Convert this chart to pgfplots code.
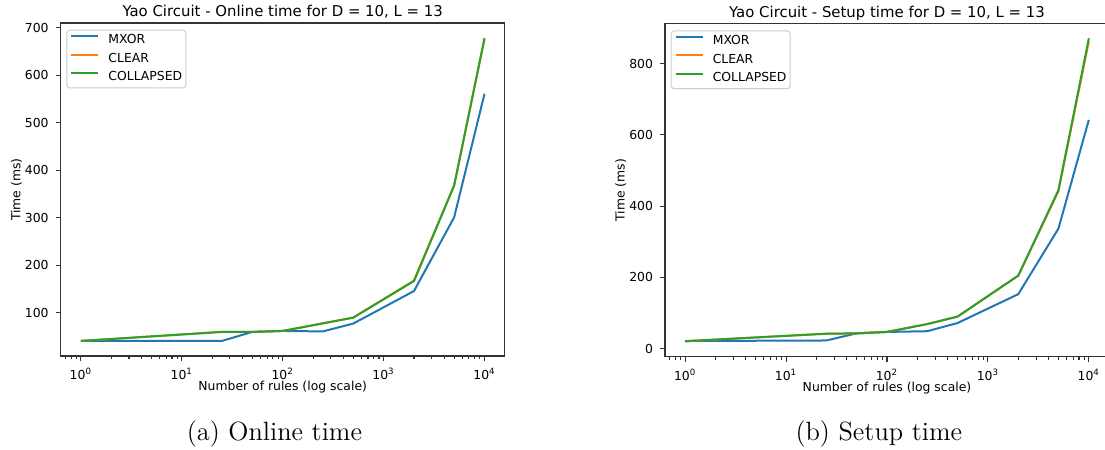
\documentclass[border=0pt]{standalone}
\usepackage{fontspec}
\usepackage{pgfplots}
\pgfplotsset{compat=1.18}
\newfontfamily\dejavu{DejaVu Sans}
\newcommand\tickfont{\dejavu\fontsize{6.2}{7.4}\selectfont}
\newcommand\titlefont{\dejavu\fontsize{7.45}{9}\selectfont}
\newcommand\capfont{\fontsize{13.2}{16}\selectfont}
\definecolor{mblue}{HTML}{1F77B4}
\definecolor{morange}{HTML}{FF7F0E}
\definecolor{mgreen}{HTML}{2CA02C}
\pgfplotsset{
  every axis/.append style={
    scale only axis, width=222pt, height=166.5pt,
    xmin=0.630957, xmax=15848.9,
    axis line style={black!80, line width=0.55pt},
    tick style={black!80, line width=0.55pt},
    tick align=outside, tick pos=left,
    major tick length=2.5pt, minor tick length=1.45pt,
    xtick={1,10,100,1000,10000},
    xticklabels={10\textsuperscript{0},10\textsuperscript{1},10\textsuperscript{2},10\textsuperscript{3},10\textsuperscript{4}},
    minor xtick={0.7,0.8,0.9,2,3,4,5,6,7,8,9,20,30,40,50,60,70,80,90,200,300,400,500,600,700,800,900,2000,3000,4000,5000,6000,7000,8000,9000},
    tick label style={font=\tickfont},
    label style={font=\tickfont},
    every axis title shift=0pt,
    title style={font=\titlefont, at={(axis description cs:0.5,1.0198)}, anchor=base},
    xlabel style={at={(axis description cs:0.5,-0.1051)}, anchor=base},
    ylabel style={at={(axis description cs:-0.0908,0.5)}, anchor=base},
    xlabel={Number of rules (log scale)},
    ylabel={Time (ms)},
    legend cell align=left,
    legend style={at={(axis description cs:0,1)}, anchor=north west,
      xshift=2.85pt, yshift=-3.35pt,
      draw=black!20, fill=white, fill opacity=0.8, text opacity=1,
      rounded corners=1.5pt, line width=0.5pt,
      font=\tickfont,
      inner xsep=1.8pt, inner ysep=2.2pt,
      nodes={inner sep=0pt, text height=4.6pt, text depth=1.3pt},
      row sep=3.4pt, column sep=4.5pt},
  },
  every axis plot/.append style={line width=1pt, line join=round,
    legend image code/.code={\draw[##1] (0pt,2.2pt) -- (13.5pt,2.2pt);}},
}
\begin{document}
\begin{tikzpicture}
\useasboundingbox (0,0) rectangle (552.5pt,225pt);
\begin{semilogxaxis}[at={(30.35pt,47pt)}, anchor=south west,
  ymin=9.3, ymax=710,
  ytick={100,200,300,400,500,600,700},
  yticklabels={100,200,300,400,500,600,700},
  title={Yao Circuit - Online time for D = 10, L = 13}]
\addplot[mblue] coordinates {(1,41) (25,41) (50,60) (100,62) (250,61) (500,77.5) (2000,146) (5000,301) (10000,561)};
\addlegendentry{MXOR}
\addplot[morange] coordinates {(1,41) (25,60) (50,60) (100,62) (250,78) (500,90) (2000,168) (5000,368) (10000,677)};
\addlegendentry{CLEAR}
\addplot[mgreen] coordinates {(1,41) (25,60) (50,60) (100,62) (250,78) (500,90) (2000,167) (5000,368) (10000,678)};
\addlegendentry{COLLAPSED}
\end{semilogxaxis}
\begin{semilogxaxis}[at={(332.5pt,46.65pt)}, anchor=south west,
  ymin=-22.5, ymax=912,
  ytick={0,200,400,600,800},
  yticklabels={0,200,400,600,800},
  title={Yao Circuit - Setup time for D = 10, L = 13}]
\addplot[mblue] coordinates {(1,21.5) (25,23) (50,43) (100,47) (250,49) (500,72) (2000,153) (5000,337) (10000,642)};
\addlegendentry{MXOR}
\addplot[morange] coordinates {(1,21) (25,42) (50,43) (100,47) (250,69) (500,90) (2000,205) (5000,442) (10000,862)};
\addlegendentry{CLEAR}
\addplot[mgreen] coordinates {(1,21) (25,42) (50,43) (100,47) (250,69) (500,90) (2000,205) (5000,445) (10000,871)};
\addlegendentry{COLLAPSED}
\end{semilogxaxis}
\node[anchor=base, font=\capfont, inner sep=0pt] at (137.2pt,4.5pt) {(a) Online time};
\node[anchor=base, font=\capfont, inner sep=0pt] at (439.4pt,4.5pt) {(b) Setup time};
\end{tikzpicture}
\end{document}
